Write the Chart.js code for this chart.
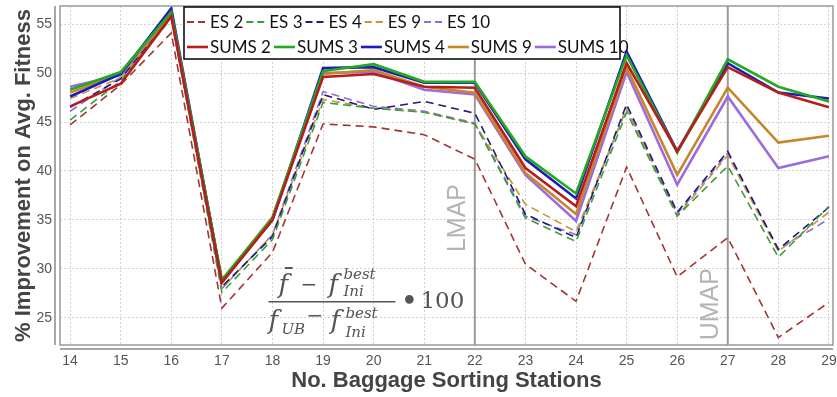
<!DOCTYPE html>
<html>
<head>
<meta charset="utf-8">
<script src="https://cdn.jsdelivr.net/npm/chart.js@4.4.0/dist/chart.umd.min.js"></script>
<style>
  body { margin: 0; background: #fff; }
</style>
</head>
<body>
<canvas id="myChart" width="837" height="397"></canvas>
<script>
// stations on the x axis
const stations = [14, 15, 16, 17, 18, 19, 20, 21, 22, 23, 24, 25, 26, 27, 28, 29];

// ES runs (dashed)
const es2  = [44.7, 48.8, 54.1, 26.0, 31.7, 44.8, 44.5, 43.7, 41.2, 30.5, 26.7, 40.4, 29.2, 33.2, 23.0, 26.6];
const es3  = [45.2, 49.2, 55.6, 27.6, 33.0, 47.0, 46.4, 46.0, 44.8, 35.2, 32.8, 46.0, 35.4, 40.5, 31.2, 36.4];
const es4  = [46.5, 49.4, 55.8, 28.2, 33.3, 47.8, 46.3, 47.1, 45.9, 35.6, 33.2, 46.8, 35.8, 42.0, 32.0, 36.3];
const es9  = [47.4, 49.5, 55.7, 28.0, 33.5, 47.3, 46.4, 46.0, 44.8, 36.6, 33.8, 46.4, 35.4, 41.6, 31.8, 35.8];
const es10 = [46.1, 49.6, 55.7, 28.0, 33.5, 48.1, 46.6, 46.1, 44.9, 35.4, 33.5, 46.4, 35.6, 41.8, 32.0, 35.1];

// SUMS runs (solid)
const sums2  = [46.6, 48.9, 55.8, 28.6, 35.0, 49.6, 49.9, 48.6, 48.5, 40.3, 36.4, 51.0, 42.0, 50.6, 48.0, 46.5];
const sums3  = [48.3, 50.1, 56.2, 28.9, 35.2, 50.2, 50.9, 49.1, 49.1, 41.5, 37.7, 51.8, 41.9, 51.4, 48.6, 47.1];
const sums4  = [47.6, 49.9, 56.6, 28.7, 35.0, 50.5, 50.6, 49.0, 49.0, 41.2, 37.2, 52.2, 42.0, 51.0, 48.0, 47.4];
const sums9  = [48.0, 49.9, 56.0, 28.8, 35.3, 49.9, 50.3, 48.6, 48.0, 39.8, 35.6, 50.6, 39.6, 48.5, 42.9, 43.6];
const sums10 = [48.6, 49.8, 56.0, 28.8, 35.1, 50.0, 50.1, 48.3, 47.8, 39.6, 34.9, 50.1, 38.6, 47.6, 40.3, 41.5];

const esNames   = ['ES 2', 'ES 3', 'ES 4', 'ES 9', 'ES 10'];
const sumsNames = ['SUMS 2', 'SUMS 3', 'SUMS 4', 'SUMS 9', 'SUMS 10'];

// vertical markers
const markers = [{at: 22, label: 'LMAP', labelY: 35.2}, {at: 27, label: 'UMAP', labelY: 26.4}];

const esColors   = ['#a33535', '#3a9e3a', '#1c1c7c', '#c8963e', '#8a70d2'];
const sumsColors = ['#b81c1c', '#22aa22', '#1c1cb8', '#c8862a', '#9b6be0'];

const toPoints = (arr) => arr.map((v, i) => ({x: stations[i], y: v}));

const datasets = [];
[es2, es3, es4, es9, es10].forEach((d, i) => {
  datasets.push({
    label: esNames[i], data: toPoints(d), borderColor: esColors[i],
    borderWidth: 1.6, borderDash: [8, 5], pointRadius: 0, tension: 0, fill: false, order: 1
  });
});
[sums2, sums3, sums4, sums9, sums10].forEach((d, i) => {
  datasets.push({
    label: sumsNames[i], data: toPoints(d), borderColor: sumsColors[i],
    borderWidth: 2.6, pointRadius: 0, tension: 0, fill: false, order: 0
  });
});

// frame, offset axes, LMAP/UMAP lines, legend box and formula
const decor = {
  id: 'decor',
  beforeDatasetsDraw(chart) {
    const {ctx, chartArea: a, scales: {x, y}} = chart;
    ctx.save();
    markers.forEach(m => {
      const px = x.getPixelForValue(m.at);
      ctx.strokeStyle = '#9a9a9a';
      ctx.lineWidth = 2;
      ctx.beginPath(); ctx.moveTo(px, a.top); ctx.lineTo(px, a.bottom); ctx.stroke();
      ctx.save();
      ctx.translate(px - 17, y.getPixelForValue(m.labelY));
      ctx.rotate(-Math.PI / 2);
      ctx.fillStyle = '#b4b4b4';
      ctx.font = '25px "Liberation Sans"';
      ctx.textAlign = 'center';
      ctx.textBaseline = 'middle';
      ctx.fillText(m.label, 0, 0);
      ctx.restore();
    });
    ctx.restore();
  },
  afterDraw(chart) {
    const {ctx, chartArea: a, scales: {x, y}} = chart;
    ctx.save();
    // plot frame
    ctx.strokeStyle = '#999';
    ctx.lineWidth = 1.5;
    ctx.strokeRect(a.left, a.top, a.right - a.left, a.bottom - a.top);
    // axis lines, offset from the plot
    ctx.strokeStyle = '#8a8a8a';
    ctx.beginPath();
    ctx.moveTo(a.left - 5, a.top); ctx.lineTo(a.left - 5, a.bottom);
    ctx.moveTo(a.left, a.bottom + 4); ctx.lineTo(a.right, a.bottom + 4);
    ctx.stroke();

    // legend
    const lx = a.left + 124, ly = a.top + 1, lw = 436, lh = 52;
    ctx.fillStyle = '#fff';
    ctx.fillRect(lx, ly, lw, lh);
    ctx.strokeStyle = '#000';
    ctx.lineWidth = 1.5;
    ctx.strokeRect(lx, ly, lw, lh);
    ctx.font = '17px Lato';
    ctx.textBaseline = 'middle';
    ctx.textAlign = 'left';
    let cx = lx;
    chart.data.datasets.forEach((ds, i) => {
      const row = i < 5 ? 0 : 1;
      if (i % 5 === 0) cx = lx + 3;
      const cy = ly + 15 + row * 25;
      ctx.strokeStyle = ds.borderColor;
      ctx.lineWidth = row === 0 ? 2 : 2.6;
      ctx.setLineDash(row === 0 ? [7, 4] : []);
      ctx.beginPath(); ctx.moveTo(cx, cy); ctx.lineTo(cx + 21, cy); ctx.stroke();
      ctx.setLineDash([]);
      ctx.fillStyle = '#111';
      ctx.fillText(ds.label, cx + 23, cy + 1);
      cx = cx + 23 + ctx.measureText(ds.label).width + 3;
    });

    // formula
    const fx = x.getPixelForValue(17.92);
    const fy = y.getPixelForValue(26.65);
    ctx.fillStyle = '#555';
    ctx.strokeStyle = '#555';
    const big = 'italic 26px "DejaVu Serif"';
    const small = 'italic 15px "DejaVu Serif"';
    ctx.textBaseline = 'alphabetic';
    ctx.font = big;
    ctx.fillText('f\u0304', fx + 10, fy - 9);
    ctx.fillText('f', fx + 60, fy - 9);
    ctx.fillText('f', fx, fy + 27);
    ctx.fillText('f', fx + 62, fy + 27);
    ctx.font = '20px "DejaVu Serif"';
    ctx.fillText('\u2212', fx + 32, fy - 11);
    ctx.fillText('\u2212', fx + 38, fy + 20);
    ctx.font = small;
    ctx.fillText('best', fx + 75, fy - 23);
    ctx.fillText('Ini', fx + 75, fy - 6);
    ctx.fillText('UB', fx + 13, fy + 32);
    ctx.fillText('best', fx + 77, fy + 16);
    ctx.fillText('Ini', fx + 77, fy + 35);
    ctx.lineWidth = 1.5;
    ctx.beginPath(); ctx.moveTo(fx, fy); ctx.lineTo(fx + 127, fy); ctx.stroke();
    ctx.textBaseline = 'middle';
    ctx.font = '30px "DejaVu Serif"';
    ctx.fillText('\u2022', fx + 132, fy + 1);
    ctx.font = '23px "DejaVu Serif"';
    ctx.fillText('100', fx + 152, fy);
    ctx.restore();
  }
};

const config = {
  type: 'line',
  data: {datasets: datasets},
  options: {
    responsive: false,
    animation: false,
    layout: {padding: {top: 6, right: 4, left: 0, bottom: 0}},
    plugins: {legend: {display: false}, tooltip: {enabled: false}},
    scales: {
      x: {
        type: 'linear', min: 13.8, max: 29.08,
        ticks: {stepSize: 1, includeBounds: false, color: '#555', padding: 8,
                font: {family: 'Liberation Sans', size: 14}},
        grid: {color: '#d2d2d2', drawTicks: false},
        border: {display: false, dash: [2, 2]},
        title: {display: true, text: 'No. Baggage Sorting Stations', color: '#444',
                font: {family: 'Liberation Sans', size: 22, weight: 'bold'},
                padding: {top: 0, bottom: 3}},
        afterFit(s) { s.height = 52; s.paddingLeft = 0; s.paddingRight = 0; }
      },
      y: {
        min: 22.24, max: 56.84,
        ticks: {stepSize: 5, includeBounds: false, color: '#555', padding: 8,
                font: {family: 'Liberation Sans', size: 14}},
        grid: {color: '#d2d2d2', drawTicks: false},
        border: {display: false, dash: [2, 2]},
        title: {display: true, text: '% Improvement on Avg. Fitness', color: '#444',
                font: {family: 'Liberation Sans', size: 22, weight: 'bold'},
                padding: {top: 11, bottom: 0}},
        afterFit(s) { s.width = 60; s.paddingTop = 0; s.paddingBottom = 0; }
      }
    }
  },
  plugins: [decor]
};

const chart = new Chart(document.getElementById('myChart'), config);
</script>
</body>
</html>
